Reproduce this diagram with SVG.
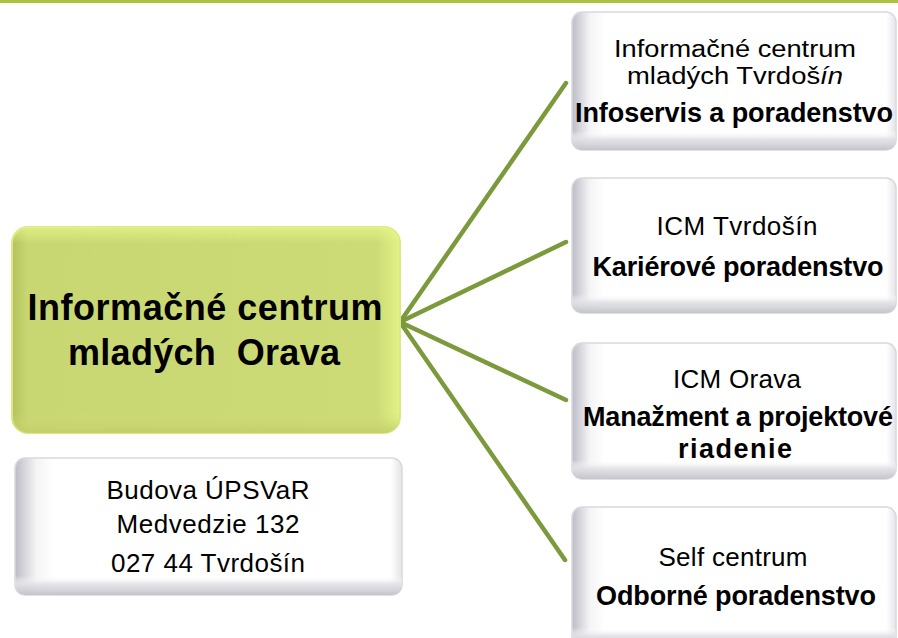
<svg xmlns="http://www.w3.org/2000/svg" width="898" height="638" viewBox="0 0 898 638">
  <defs>
    <linearGradient id="bevelL" x1="0" y1="0" x2="1" y2="0">
      <stop offset="0" stop-color="#bcbcc6"/>
      <stop offset="0.055" stop-color="#f4f4f6"/>
      <stop offset="0.1" stop-color="#ffffff"/>
      <stop offset="0.97" stop-color="#ffffff"/>
      <stop offset="1" stop-color="#e4e4e8"/>
    </linearGradient>
    <linearGradient id="bevelB" x1="0" y1="0" x2="0" y2="1">
      <stop offset="0" stop-color="#ffffff" stop-opacity="0"/>
      <stop offset="0.86" stop-color="#ffffff" stop-opacity="0"/>
      <stop offset="0.92" stop-color="#e2e2e6" stop-opacity="0.9"/>
      <stop offset="1" stop-color="#c4c4cc" stop-opacity="1"/>
    </linearGradient>
    <linearGradient id="mainH" x1="0" y1="0" x2="1" y2="0">
      <stop offset="0" stop-color="#b4c25c"/>
      <stop offset="0.04" stop-color="#c9d772"/>
      <stop offset="0.94" stop-color="#cddb76"/>
      <stop offset="1" stop-color="#e4f386"/>
    </linearGradient>
    <linearGradient id="mainV" x1="0" y1="0" x2="0" y2="1">
      <stop offset="0" stop-color="#e8f78a" stop-opacity="0.7"/>
      <stop offset="0.08" stop-color="#e8f78a" stop-opacity="0"/>
      <stop offset="0.9" stop-color="#d0dd78" stop-opacity="0"/>
      <stop offset="1" stop-color="#bfcc66" stop-opacity="0.8"/>
    </linearGradient>
  </defs>
  <style>
    .box { fill: url(#bevelL); stroke: #d9d9de; stroke-width: 1.5; }
    .boxB { fill: url(#bevelB); stroke: none; }
    .t { font-family: "Liberation Sans", Arial, sans-serif; fill: #000; text-anchor: middle; }
    .n { font-size: 26px; }
    .s { font-size: 23px; }
    .b { font-size: 27px; font-weight: bold; }
    .m { font-size: 36px; font-weight: bold; }
    .conn { stroke: #7c9a3c; stroke-width: 4.5; stroke-linecap: round; fill: none; }
  </style>
  <rect x="0" y="0" width="898" height="3" fill="#a9c23f"/>

  <g id="connectors">
    <line class="conn" x1="400" y1="322" x2="566" y2="83"/>
    <line class="conn" x1="400" y1="322" x2="566" y2="242"/>
    <line class="conn" x1="400" y1="322" x2="566" y2="400"/>
    <line class="conn" x1="400" y1="322" x2="565" y2="560"/>
  </g>

  <g id="main">
    <rect x="12" y="227" width="388" height="206" rx="16" fill="url(#mainH)" stroke="#dbe985" stroke-width="2"/>
    <rect x="12" y="227" width="388" height="206" rx="16" fill="url(#mainV)"/>
    <text class="t m" x="205" y="320" textLength="355">Informačné centrum</text>
    <text class="t m" x="204" y="365" textLength="272" xml:space="preserve">mladých  Orava</text>
  </g>

  <g id="address">
    <rect class="box" x="15" y="458" width="387" height="137" rx="10"/>
    <rect class="boxB" x="15" y="458" width="387" height="137" rx="10"/>
    <text class="t n" x="208" y="499" textLength="203">Budova ÚPSVaR</text>
    <text class="t n" x="208" y="533" textLength="183">Medvedzie 132</text>
    <text class="t n" x="208" y="572" textLength="194">027 44 Tvrdošín</text>
  </g>

  <g id="node1">
    <rect class="box" x="572" y="12" width="324" height="138" rx="10"/>
    <rect class="boxB" x="572" y="12" width="324" height="138" rx="10"/>
    <text class="t s" x="735" y="57" textLength="242" lengthAdjust="spacingAndGlyphs">Informačné centrum</text>
    <text class="t s" x="735" y="84" textLength="216" lengthAdjust="spacingAndGlyphs">mladých Tvrdoš<tspan font-style="italic">ín</tspan></text>
    <text class="t b" x="734" y="122" textLength="318">Infoservis a poradenstvo</text>
  </g>

  <g id="node2">
    <rect class="box" x="572" y="178" width="324" height="135" rx="10"/>
    <rect class="boxB" x="572" y="178" width="324" height="135" rx="10"/>
    <text class="t n" x="737" y="235" textLength="161">ICM Tvrdošín</text>
    <text class="t b" x="738" y="276" textLength="291">Kariérové poradenstvo</text>
  </g>

  <g id="node3">
    <rect class="box" x="572" y="343" width="324" height="136" rx="10"/>
    <rect class="boxB" x="572" y="343" width="324" height="136" rx="10"/>
    <text class="t n" x="737" y="388" textLength="128">ICM Orava</text>
    <text class="t b" x="738" y="426" textLength="310">Manažment a projektové</text>
    <text class="t b" x="735" y="458" textLength="114">riadenie</text>
  </g>

  <g id="node4">
    <rect class="box" x="572" y="507" width="324" height="140" rx="10"/>
    <rect class="boxB" x="572" y="507" width="324" height="140" rx="10"/>
    <text class="t n" x="733" y="566" textLength="149">Self centrum</text>
    <text class="t b" x="736" y="605" textLength="280">Odborné poradenstvo</text>
  </g>
</svg>
